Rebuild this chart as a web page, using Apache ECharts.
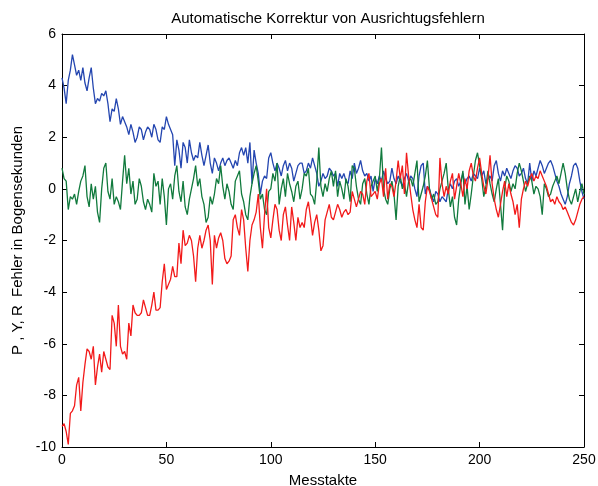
<!DOCTYPE html>
<html>
<head>
<meta charset="utf-8">
<title>Automatische Korrektur von Ausrichtugsfehlern</title>
<script src="https://cdn.jsdelivr.net/npm/echarts@6/dist/echarts.min.js"></script>
<style>
    html, body { margin: 0; padding: 0; background: #fff; }
    #chart { width: 598px; height: 486px; }
</style>
</head>
<body>
<div id="chart"></div>
<script>
// ===== Daten (Messtakte 0..250) =====
var xTicks = [0, 50, 100, 150, 200, 250];
var yTicks = [-10, -8, -6, -4, -2, 0, 2, 4, 6];

// P (blau)
var pVals = [
    4.3, 3.9, 3.3, 4.2, 4.6, 5.2, 4.8, 4.4, 4.6, 4.2,
    4.7, 4.1, 3.8, 4.3, 4.7, 3.9, 3.3, 3.5, 3.4, 3.7,
    3.6, 3.8, 3.3, 2.6, 3.1, 3.0, 3.5, 3.1, 2.5, 2.8,
    2.6, 2.4, 2.1, 2.5, 2.2, 1.8, 2.0, 2.4, 2.3, 1.9,
    2.2, 2.4, 2.3, 2.0, 2.5, 2.3, 1.9, 1.8, 2.4, 2.3,
    2.8, 2.5, 2.3, 2.1, 0.9, 1.9, 1.5, 0.8, 1.8, 1.6,
    1.0, 1.9, 1.4, 1.1, 1.3, 1.2, 1.8, 1.3, 0.9, 1.3,
    1.7, 1.0, 0.6, 1.2, 1.0, 0.7, 1.0, 1.2, 0.9, 1.1,
    1.2, 1.0, 0.8, 1.1, 0.9, 1.4, 1.6, 1.3, 1.6, 1.0,
    1.8, 0.2, 1.5, 1.0, 0.6, -0.2, 0.3, 0.5, 0.4, 1.2,
    1.4, 1.0, 0.7, 1.0, 0.8, 0.5, 0.9, 1.1, 0.7, 1.0,
    0.8, 0.3, 0.6, 0.9, 1.0, 1.0, 0.6, 0.7, 1.0, 0.8,
    1.2, 0.9, 0.6, 0.1, 0.3, 0.6, 0.4, 0.5, 0.8, 0.7,
    0.5, 0.6, 0.1, 0.6, 0.4, 0.6, 0.3, 0.2, 0.7, 0.4,
    1.0, 0.6, 0.8, 1.1, 0.7, 0.5, 0.6, 0.3, 0.5, -0.1,
    0.4, 0.2, 0.5, 0.3, 0.7, 0.4, 0.2, 0.3, 0.8, 0.4,
    0.2, 0.5, 0.3, 0.1, 0.4, 0.6, 0.3, 0.5, 0.4, 0.0,
    -0.3, 0.5, 0.9, 1.0, -0.2, 0.1, 0.0, -0.3, -0.5, -0.1,
    -0.2, -0.5, -0.3, -0.4, -0.5, 0.0, 0.2, 0.0, 0.3, 0.4,
    0.1, 0.3, 0.6, 0.2, 0.4, 0.5, 0.3, 0.6, 0.5, 0.4,
    0.8, 0.5, 0.7, 0.2, 0.4, 0.5, 0.3, 0.9, 1.1, 0.6,
    0.3, 0.7, 0.5, 0.8, 0.6, 0.4, 0.7, 0.9, 0.8, 0.5,
    0.6, 0.8, 0.4, 0.2, 1.0, 0.3, 0.7, 0.5, 0.8, 1.1,
    0.9, 0.6, 0.8, 1.0, 1.1, 0.9, 0.6, 0.3, 0.1, -0.2,
    -0.4, -0.6, -0.3, 0.2, 0.5, 0.9, 1.0, 0.8, 0.3, -0.1,
    -0.4
];

// Y (gruen)
var yVals = [
    0.8, 0.4, 0.3, -0.8, -0.3, -0.4, -0.2, -0.6, -0.1, 0.3,
    0.5, 0.9, -0.3, -0.7, 0.2, -0.4, 0.1, -0.9, -1.3, 0.0,
    0.8, 1.0, -0.1, -0.4, 0.4, -0.6, -0.3, -0.5, -0.8, 0.3,
    1.3, 0.2, 0.8, -0.2, 0.3, -0.6, -0.4, 0.4, 0.1, -0.5,
    -0.8, -0.4, -0.6, -0.9, 0.6, 0.1, 0.3, -0.6, 0.4, -0.3,
    -1.4, 0.0, 0.2, -0.4, 0.5, 0.9, -0.1, -0.5, 0.3, -0.7,
    -1.0, -0.4, 0.0, 0.4, 0.9, 0.1, 0.4, -0.3, -0.6, -1.3,
    -1.1, -0.3, -0.6, -0.2, 0.4, 0.2, 0.9, 0.1, -0.4, 0.2,
    -0.1, -0.6, -0.8, 0.3, 0.5, 0.7, -0.2, -0.5, -1.0, -1.2,
    -0.3, 0.2, 0.6, 0.9, 0.3, -0.4, -0.2, -0.8, -1.0, -0.1,
    0.0, 0.6, 0.3, 1.0, -0.6, 0.0, 0.4, -0.3, 0.6, 0.2,
    -0.1, -0.5, 0.1, 0.3, -0.4, 0.0, 0.6, 0.5, 0.8, -0.2,
    -0.3, -0.6, 0.3, 1.6, 0.1, -0.3, 0.2, -0.1, 0.4, 0.7,
    0.1, 0.7, -0.3, 0.3, 0.0, -0.4, 0.4, 0.1, -0.5, 0.9,
    0.8, 0.1, -0.4, -0.6, 0.2, 0.4, -0.2, -0.6, 0.1, 0.3,
    0.5, -0.1, 0.4, 1.6, 0.0, -0.4, -0.6, 0.0, 0.3, -0.2,
    -1.2, 0.1, 0.5, 0.0, 0.2, -0.3, 0.3, 0.4, 0.1, 0.6,
    1.1, -0.5, -0.2, 0.1, 0.5, 1.1, 0.0, -0.4, -0.2, -0.6,
    -0.5, 0.0, 0.3, 0.6, 1.0, 0.0, -0.7, -0.3, -1.1, -1.4,
    -0.4, 0.2, 0.7, -0.6, 0.1, -0.8, -0.2, 0.5, 1.1, 1.4,
    0.9, 0.4, -0.3, 0.1, 0.7, 0.2, -0.2, -0.5, 0.0, 0.4,
    -0.6, -1.6, 0.0, 0.5, 0.3, -0.1, 0.2, 0.0, 0.6, 1.0,
    0.7, 0.3, -0.1, 0.2, 0.5, 0.3, -0.2, 0.1, 0.0, -0.3,
    -1.0, 0.2, 0.0, -0.3, -0.2, 0.1, 0.3, 0.5, 0.2, 0.6,
    1.0, 0.6, 0.0, -0.4, -0.6, -0.3, 0.0, -0.5, -0.1, 0.2,
    -0.2
];

// R (rot)
var rVals = [
    -9.2, -9.1, -9.4, -9.9, -8.7, -8.6, -8.4, -7.6, -7.3, -8.6,
    -7.5, -6.8, -6.2, -6.3, -6.6, -6.1, -7.6, -6.9, -6.4, -7.1,
    -6.3, -6.6, -6.9, -7.0, -4.9, -5.2, -6.1, -4.5, -6.1, -6.4,
    -6.3, -6.6, -5.2, -5.7, -4.5, -4.8, -4.9, -4.9, -4.8, -4.3,
    -4.6, -4.9, -4.9, -4.5, -4.0, -4.7, -4.7, -4.6, -3.6, -2.9,
    -3.9, -3.7, -3.5, -3.0, -3.4, -3.4, -2.1, -2.9, -1.6, -2.2,
    -2.1, -1.8, -2.0, -2.6, -3.6, -2.3, -1.8, -2.3, -2.0, -1.6,
    -1.4, -2.0, -3.7, -1.8, -2.3, -1.9, -1.7, -2.0, -2.7, -2.9,
    -2.8, -2.6, -1.2, -1.0, -1.5, -1.8, -0.8, -1.2, -2.3, -3.2,
    -2.0, -1.4, -1.2, -0.9, -0.2, -1.5, -2.3, -1.0, 0.0, -1.5,
    -1.9, -1.2, -0.6, -0.8, -1.6, -2.0, -1.0, -0.7, -1.4, -2.0,
    -0.7, -1.3, -2.0, -1.1, -1.5, -1.3, -1.5, -0.8, -0.5, -1.1,
    -1.8, -1.3, -1.0, -1.6, -2.4, -2.2, -1.2, -0.9, -0.6, -1.1,
    -1.2, -0.9, -0.6, -0.8, -1.1, -0.9, -0.8, -1.0, -0.9, -0.1,
    -0.4, -0.7, -0.4, -0.1, -0.2, -0.6, 0.3, 0.6, -0.3, -0.2,
    -0.1, -0.4, 0.2, 0.4, -0.3, 0.8, -0.4, 0.2, 0.1, -0.3,
    0.3, 1.1, 0.4, 0.9, -0.2, 1.4, 0.5, -0.2, -0.8, -1.2,
    -1.5, -0.6, -1.5, -1.6, -0.5, 0.1, -0.1, -0.4, -0.7, -1.0,
    -1.1, 1.2, 0.2, -0.3, 0.1, -0.2, 0.3, 0.6, -0.4, 0.1,
    0.6, 0.2, -0.3, 0.4, 0.0, 0.7, 1.0, 0.5, 0.3, 0.8,
    1.2, 0.6, 0.1, -0.2, 0.4, 1.3, 0.2, -0.4, -0.8, -1.1,
    -0.6, -0.1, 0.3, -0.3, 0.2, -0.2, -0.5, -1.0, -0.6, -1.5,
    -0.4, 0.0, 0.3, 0.1, 0.4, 0.6, 0.3, 0.5, 0.4, 0.7,
    0.5, 0.3, 0.1, -0.2, -0.5, -0.4, -0.6, -0.3, -0.5, -0.6,
    -0.8, -0.7, -0.9, -1.1, -1.3, -1.4, -1.2, -0.9, -0.6, -0.4,
    -0.3
];

function toPairs(arr) {
    var out = [];
    for (var i = 0; i < arr.length; i++) { out.push([i, arr[i]]); }
    return out;
}

var FONT = '"Liberation Sans", Arial, sans-serif';
var tickStyle = { color: '#000', fontSize: 14, fontFamily: FONT };
var nameStyle = { color: '#000', fontSize: 15, fontFamily: FONT };

function xAxisDef(pos, showLabel) {
    return {
        type: 'value', position: pos,
        min: xTicks[0], max: xTicks[xTicks.length - 1], interval: 50,
        axisLine: { show: true, onZero: false, lineStyle: { color: '#000', width: 1 } },
        axisTick: { show: true, inside: true, length: 5, lineStyle: { color: '#000' } },
        axisLabel: Object.assign({ show: showLabel, margin: 6 }, tickStyle),
        splitLine: { show: false },
        name: showLabel ? 'Messtakte' : '',
        nameLocation: 'middle', nameGap: 26,
        nameTextStyle: nameStyle
    };
}

function yAxisDef(pos, showLabel) {
    return {
        type: 'value', position: pos,
        min: yTicks[0], max: yTicks[yTicks.length - 1], interval: 2,
        axisLine: { show: true, onZero: false, lineStyle: { color: '#000', width: 1 } },
        axisTick: { show: true, inside: true, length: 5, lineStyle: { color: '#000' } },
        axisLabel: Object.assign({ show: showLabel, margin: 6 }, tickStyle),
        splitLine: { show: false },
        name: showLabel ? 'P , Y, R  Fehler in Bogensekunden' : '',
        nameLocation: 'middle', nameGap: 37, nameRotate: 90,
        nameTextStyle: nameStyle
    };
}

function lineSeries(name, arr, color) {
    return {
        name: name, type: 'line', data: toPairs(arr),
        xAxisIndex: 0, yAxisIndex: 0,
        showSymbol: false, symbol: 'none',
        lineStyle: { color: color, width: 1.3 },
        itemStyle: { color: color },
        animation: false
    };
}

var chart = echarts.init(document.getElementById('chart'));
chart.setOption({
    backgroundColor: '#fff',
    animation: false,
    title: {
        text: 'Automatische Korrektur von Ausrichtugsfehlern',
        left: 323, top: 6, textAlign: 'center',
        textStyle: { color: '#000', fontSize: 15, fontWeight: 'normal', fontFamily: FONT }
    },
    // feste Plotfläche, Beschriftung darf über den Rand hinaus
    grid: { left: 62, right: 14, top: 34, bottom: 39, containLabel: false, outerBoundsMode: 'none' },
    xAxis: [xAxisDef('bottom', true), xAxisDef('top', false)],
    yAxis: [yAxisDef('left', true), yAxisDef('right', false)],
    series: [
        lineSeries('P', pVals, '#2446b0'),
        lineSeries('Y', yVals, '#117a3d'),
        lineSeries('R', rVals, '#f21a1a')
    ]
});
</script>
</body>
</html>
